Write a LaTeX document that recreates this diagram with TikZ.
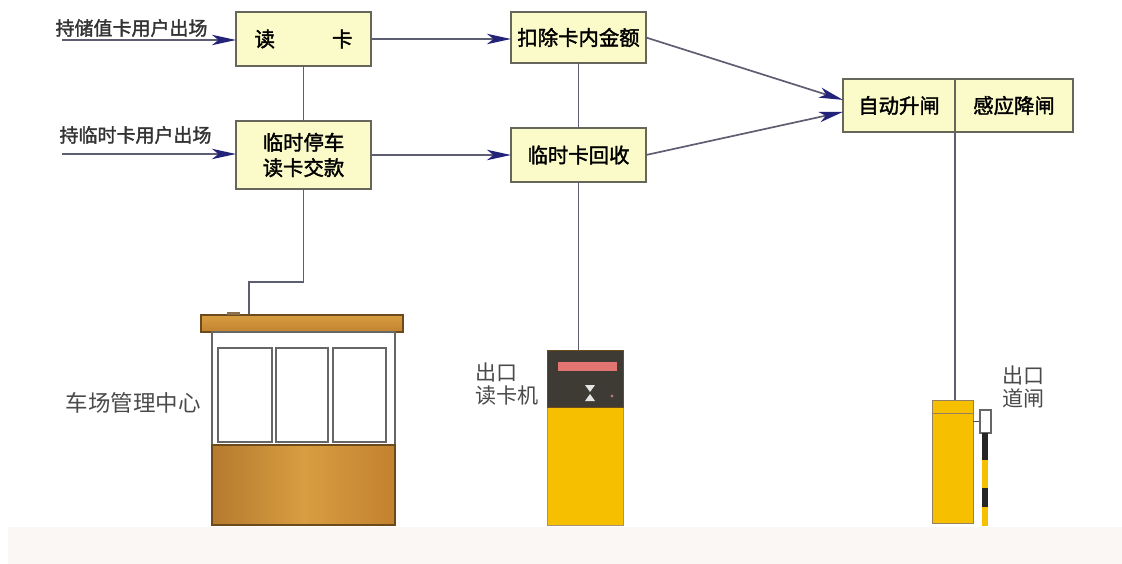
\documentclass[tikz,border=0pt]{standalone}
\usepackage{fontspec}
\newfontfamily\cjk{Noto Sans CJK SC}
\newfontfamily\cjkb[FakeBold=1.8]{Noto Sans CJK SC}
\usetikzlibrary{arrows.meta}
\definecolor{boxfill}{HTML}{FBFBC9}
\definecolor{boxline}{HTML}{66665A}
\definecolor{wiregray}{HTML}{5E5E72}
\definecolor{tipblue}{HTML}{23237A}
\definecolor{wood}{HTML}{C2822F}
\definecolor{woodlight}{HTML}{D89D40}
\definecolor{wooddeep}{HTML}{B57A2E}
\definecolor{wooddark}{HTML}{6B4A1E}
\definecolor{amber}{HTML}{F6C000}
\definecolor{panel}{HTML}{3D3B34}
\definecolor{strip}{HTML}{E27472}
\definecolor{ground}{HTML}{FBF7F4}
\definecolor{label}{HTML}{4A4A4A}

\begin{document}
\begin{tikzpicture}[x=0.025cm,y=-0.025cm]
\tikzstyle{every node}+=[inner sep=0pt]
\tikzstyle{box}=[draw=boxline,line width=1.4pt,outer sep=0pt,fill=boxfill,font=\cjkb\fontsize{14.5pt}{18pt}\selectfont,align=center]
\tikzstyle{wire}=[draw=wiregray,line width=1.2pt]
\tikzstyle{flow}=[wire,-{Stealth[length=6mm,width=2.6mm,inset=1.6mm,color=tipblue]}]
\tikzstyle{tag}=[font=\cjk\fontsize{15pt}{16pt}\selectfont,text=label,align=left,anchor=north west]
\useasboundingbox (0,0) rectangle (1122,564);
\fill[ground] (8,527) rectangle (1122,564);

% flow boxes
\node[box,minimum width=3.375cm,minimum height=1.35cm] (read) at (303.5,39) {读\hspace{2.8em}卡};
\node[box,minimum width=3.375cm,minimum height=1.7cm] (temp) at (303.5,155) {临时停车\\读卡交款};
\node[box,minimum width=3.375cm,minimum height=1.275cm] (deduct) at (578.5,37.5) {扣除卡内金额};
\node[box,minimum width=3.375cm,minimum height=1.35cm] (recycle) at (578.5,155) {临时卡回收};
\node[box,minimum width=2.8cm,minimum height=1.325cm] (raise) at (899,105.5) {自动升闸};
\node[box,minimum width=2.95cm,minimum height=1.325cm,anchor=west] (lower) at (raise.east) {感应降闸};

% incoming users
\node[font=\cjkb\fontsize{13.5pt}{16pt}\selectfont,text=black!80] (storedin) at (131.5,28) {持储值卡用户出场};
\node[font=\cjkb\fontsize{13.5pt}{16pt}\selectfont,text=black!80] (tempin) at (135.5,135) {持临时卡用户出场};
\coordinate (storedsrc) at (62,40);
\coordinate (tempsrc) at (62,154);
\draw[flow] (storedsrc) -- (read.west |- storedsrc);
\draw[flow] (tempsrc) -- (temp.west |- tempsrc);

\draw[wire] (read) -- (temp);
\draw[wire] (deduct) -- (recycle);
\draw[flow] (read.east) -- (read.east -| deduct.west);
\draw[flow] (temp.east) -- (temp.east -| recycle.west);
\draw[flow] (deduct.east) -- ([yshift=0.14cm]raise.west);
\draw[flow] (recycle.east) -- ([yshift=-0.16cm]raise.west);

% booth
\node[draw=wooddark,line width=0.8pt,top color=woodlight,bottom color=wood,minimum width=5.05cm,minimum height=0.425cm] (roof) at (302,323.5) {};
\fill[wooddark!80] (227,312) rectangle (240,315);
\draw[black!60,line width=0.8pt,fill=white] (212,332) rectangle (395,445);
\foreach \a/\b in {218/272,276/328,333/386}
  \draw[black!60,line width=0.8pt] (\a,348) rectangle (\b,442);
\draw[wooddark,line width=0.8pt,left color=wooddeep,right color=wood,middle color=woodlight] (212,445) rectangle (395,525);
\node[font=\cjk\fontsize{16pt}{18pt}\selectfont,text=label] (centre) at (133,403) {车场管理中心};
\coordinate (tap) at (249,282);
\draw[wire] (temp.south) |- (tap) -- (tap |- roof.north);

% card reader
\node[draw=wooddark!60,line width=0.6pt,fill=amber,minimum width=1.9cm,minimum height=4.375cm] (reader) at (585,437.5) {};
\filldraw[fill=panel,draw=wooddark,line width=0.6pt] (547,350) rectangle (623,407);
\fill[strip] (558,362) rectangle (617,371);
\fill[white!80!gray] (585,385) -- (595,385) -- (590,392) -- cycle;
\fill[white!80!gray] (585,401) -- (595,401) -- (590,394) -- cycle;
\fill[strip!50!gray] (612,396) circle (1.2pt);
\node[tag] (readertag) at (475,363) {出口\\读卡机};
\draw[wire] (recycle) -- (recycle |- reader.north);

% barrier gate
\node[draw=wooddark!70,line width=0.6pt,fill=amber,minimum width=1.025cm,minimum height=3.075cm] (barrier) at (952.5,461.5) {};
\draw[wooddark!70,line width=0.6pt] (932,413) -- (973,413);
\draw[black!70,line width=0.6pt] (973,421) -- (980,421);
\draw[black!60,line width=0.8pt,fill=white] (980,410) rectangle (991,433);
\fill[black!85] (982,433) rectangle (988,460);
\fill[amber] (982,460) rectangle (988,488);
\fill[black!85] (982,488) rectangle (988,507);
\fill[amber] (982,507) rectangle (988,526);
\node[tag] (gatetag) at (1002,366) {出口\\道闸};
\draw[wire] (raise.south east) -- (raise.south east |- barrier.north);
\end{tikzpicture}
\end{document}
